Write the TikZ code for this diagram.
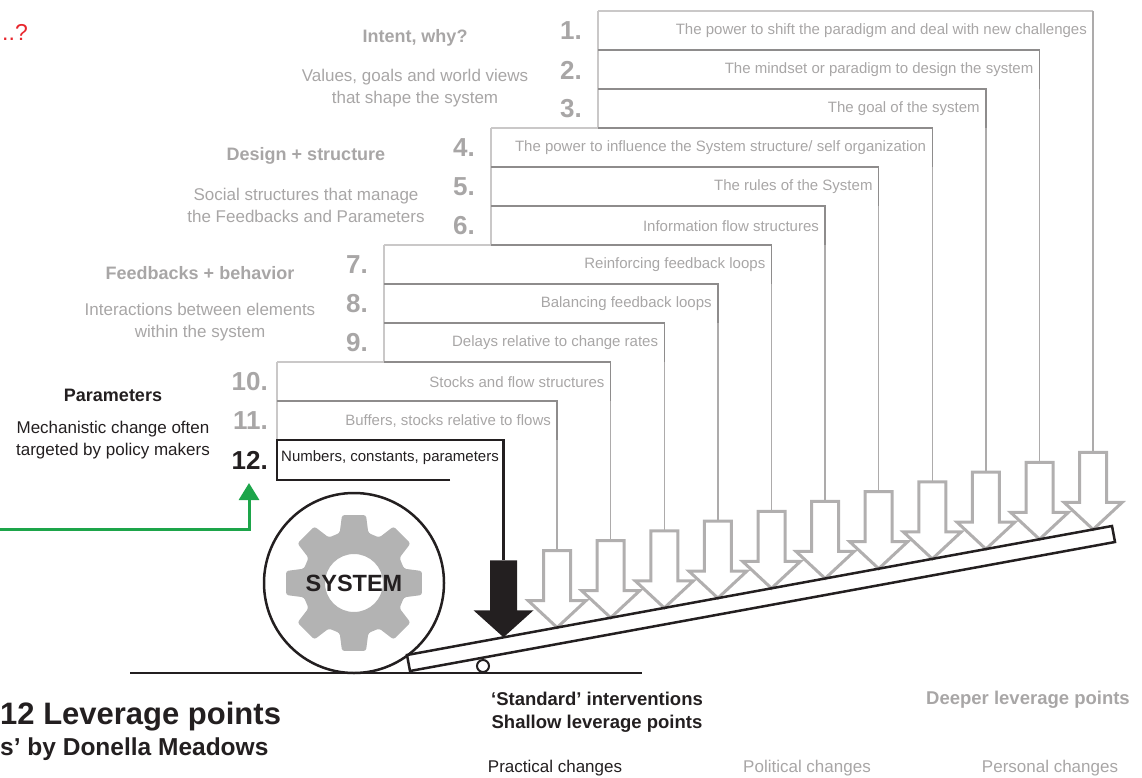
\documentclass[tikz,border=0pt]{standalone}
\usepackage{fontspec}
\setmainfont{Liberation Sans}
\usepackage{tikz}
\usetikzlibrary{arrows.meta}
\definecolor{LeverInk}{HTML}{231F20}
\definecolor{LeverGray}{HTML}{A8A6A6}
\definecolor{LineLight}{HTML}{CAC8C8}
\definecolor{LineMid}{HTML}{ADABAB}
\definecolor{LineDark}{HTML}{8E8C8C}
\definecolor{GearGray}{HTML}{B3B3B3}
\definecolor{ArrowGray}{HTML}{B1AFAF}
\definecolor{PolicyGreen}{HTML}{1DA54A}
\definecolor{QuestionRed}{HTML}{E8262D}
\newcommand{\sz}[2]{\fontsize{#1}{#2}\selectfont}

\begin{document}
\begin{tikzpicture}[x=1pt, y=-1pt,
  itemtxt/.style={anchor=east, text=LeverGray, font=\sz{15}{18}, inner sep=0pt},
  itemnum/.style={anchor=east, text=LeverGray, font=\sz{26}{30}\bfseries, inner sep=0pt},
  headtxt/.style={text=LeverGray, font=\sz{18}{22}\bfseries, inner sep=0pt},
  bodytxt/.style={text=LeverGray, font=\sz{17}{22}, align=center, inner sep=0pt},
  hollow/.style={draw=ArrowGray, line width=3pt, fill=white, line join=miter}]
  \useasboundingbox (0,0) rectangle (1142,778);

  % left edges of the four groups
  \foreach \lx/\ya/\yb in {598/11/128, 491/128/245, 384/245/362, 277/362/440}
    {\draw[LineLight, line width=1.5pt] (\lx,\ya) -- (\lx,\yb);}

  % leverage points 1 to 11: row, drop line and push arrow
  \foreach \i/\lx/\dx/\txt in {
      1/598/598/{The power to shift the paradigm and deal with new challenges},
      2/598/598/{The mindset or paradigm to design the system},
      3/598/598/{The goal of the system},
      4/491/598/{The power to influence the System structure/ self organization},
      5/491/491/{The rules of the System},
      6/491/491/{Information flow structures},
      7/384/491/{Reinforcing feedback loops},
      8/384/384/{Balancing feedback loops},
      9/384/384/{Delays relative to change rates},
      10/277/384/{Stocks and flow structures},
      11/277/277/{Buffers, stocks relative to flows}}{%
    \pgfmathsetmacro\rx{503.5+(12-\i)*53.6}
    \pgfmathsetmacro\ry{11+(\i-1)*39}
    \pgfmathsetmacro\tip{655-0.183*(\rx-407)}
    \pgfmathsetmacro\ng{\i>9 ? 9 : 16}
    \coordinate (top\i) at (\rx,\ry);
    \coordinate (push\i) at (\rx,\tip-77);
    \draw[LineLight, line width=1.5pt] (\lx,\ry) -- (top\i);
    \draw[LineMid, line width=1.5pt] (top\i) -- (push\i);
    \ifnum\i>1
      \draw[LineDark, line width=1.5pt] (\dx,\ry) -- (top\i) -- ++(0,39);
    \fi
    \node[itemtxt] (lbl\i) at (\rx-6,\ry+20) {\txt};
    \node[itemnum] (num\i) at (\lx-\ng,\ry+20) {\i.};
    \draw[hollow] (\rx,\tip) -- ++(-29,-27) -- ++(15.5,0) -- ++(0,-50)
      -- ++(27,0) -- ++(0,50) -- ++(15.5,0) -- cycle;
  }

  % leverage point 12, the one usually pushed
  \coordinate (top12) at (503.5,440);
  \coordinate (push12) at (503.5,560.3);
  \draw[LeverInk, line width=2.5pt] (450,480) -- (277,480) -- (277,440) -- (top12) -- (push12);
  \node[anchor=west, inner sep=0pt, font=\sz{15}{18}, text=LeverInk] (lbl12) at (281,458)
    {Numbers, constants, parameters};
  \node[itemnum, text=LeverInk] (num12) at (268,460) {12.};
  \fill[LeverInk] (503.5,637.3) -- ++(-30,-27) -- ++(16.5,0) -- ++(0,-50)
    -- ++(27,0) -- ++(0,50) -- ++(16.5,0) -- cycle;

  % ground, lever and fulcrum
  \draw[LeverInk, line width=2.5pt] (130,673) -- (642,673);
  \draw[LeverInk, line width=2.5pt, line join=miter]
    (407,655) -- (1112,526) -- (1115,542) -- (410,671) -- cycle;
  \draw[LeverInk, line width=2pt, fill=white] (483,666) circle (6);

  % the system wheel
  \coordinate (hub) at (354,583);
  \draw[LeverInk, line width=2.5pt] (hub) circle (90);
  \fill[GearGray, even odd rule, rounded corners=2.5pt, shift={(hub)}]
    (-16:52) \foreach \a in {0,45,...,270}
      { -- ({\a-10}:69) -- ({\a+10}:69) -- ({\a+16}:52) -- ({\a+29}:52) }
    -- (305:69) -- (325:69) -- (331:52) -- cycle
    (0,0) circle (29);
  \node[font=\sz{23.5}{28}\bfseries, text=LeverInk] (sys) at (hub) {SYSTEM};

  % group captions
  \node[headtxt] (intent) at (415,38) {Intent, why?};
  \node[bodytxt] (intentx) at (415,88) {Values, goals and world views\\that shape the system};
  \node[headtxt] (design) at (306,156) {Design + structure};
  \node[bodytxt] (designx) at (306,205) {Social structures that manage\\the Feedbacks and Parameters};
  \node[headtxt] (feedb) at (200,273) {Feedbacks + behavior};
  \node[bodytxt] (feedbx) at (200,322) {Interactions between elements\\within the system};
  \node[headtxt, text=LeverInk] (param) at (113,395) {Parameters};
  \node[bodytxt, text=LeverInk] (paramx) at (113,440) {Mechanistic change often\\targeted by policy makers};

  % policy makers pull on 12
  \coordinate (feed) at (0,529);
  \coordinate (lift) at (249,483);
  \draw[PolicyGreen, line width=3pt, -{Triangle[width=20pt,length=17pt]}] (feed) -| (lift);
  \node[anchor=east, inner sep=0pt, text=QuestionRed, font=\sz{23}{26}] (ask) at (28,32) {..?};

  % titles and bottom captions
  \node[anchor=west, inner sep=0pt, text=LeverInk, font=\sz{31}{36}\bfseries] (title) at (0,717)
    {12 Leverage points};
  \node[anchor=west, inner sep=0pt, text=LeverInk, font=\sz{24.5}{28}\bfseries] (byline) at (0,749)
    {s’ by Donella Meadows};
  \node[inner sep=0pt, align=center, text=LeverInk, font=\sz{18.5}{23}\bfseries] (shallow) at (597,712)
    {‘Standard’ interventions\\Shallow leverage points};
  \node[inner sep=0pt, text=LeverGray, font=\sz{18.5}{23}\bfseries] (deeper) at (1028,700)
    {Deeper leverage points};
  \foreach \n/\x/\c/\t in {prac/555/LeverInk/{Practical changes}, poli/807/LeverGray/{Political changes},
      pers/1050/LeverGray/{Personal changes}}
    {\node[inner sep=0pt, text=\c, font=\sz{17}{20}] (\n) at (\x,768) {\t};}
\end{tikzpicture}
\end{document}
